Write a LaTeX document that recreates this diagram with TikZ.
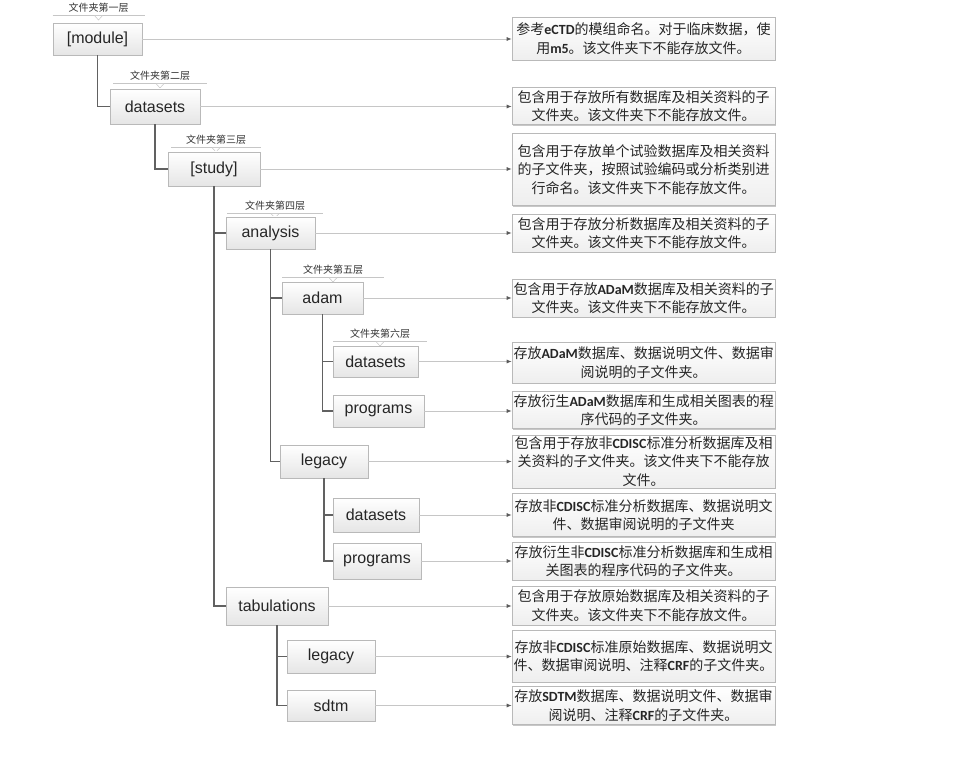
\documentclass[tikz,border=0pt]{standalone}
\usepackage{fontspec}
\newfontfamily\cjk{Noto Sans CJK SC}
\newfontfamily\arialf{Liberation Sans}
\newfontfamily\calfont{Carlito}
\usetikzlibrary{arrows.meta,shadows}
\newcommand\LB[1]{{\calfont\bfseries #1}}
\newcommand\layerlab[5]{% name, cx, yline, halfwidth, text
  \node[layer] (#1) at (#2,#3-7) {#5};
  \draw[gray!45, line width=.6pt] (#2-#4,#3) -- (#2+#4,#3);
  \draw[gray!45, fill=white, line width=.5pt] (#2-4,#3+.6) -- (#2+4,#3+.6) -- (#2,#3+5) -- cycle;
}
\begin{document}
\begin{tikzpicture}[x=1pt,y=-1pt,
  shad/.style={drop shadow={shadow xshift=1.3pt, shadow yshift=-1.3pt, fill=black, opacity=.22}},
  lbox/.style={shad, draw=gray!55, line width=.6pt, top color=white, bottom color=gray!20,
     font=\arialf\fontsize{16}{18}\selectfont, text=black!85, inner sep=0pt},
  rbox/.style={shad, draw=gray!55, line width=.6pt, top color=white, bottom color=gray!13,
     minimum width=263pt, text width=260pt, align=center, inner xsep=1.5pt, inner ysep=0pt,
     font=\cjk\fontsize{14}{18.5}\selectfont, text=black!85},
  tree/.style={draw=black!62, line width=1.3pt},
  conn/.style={draw=gray!45, line width=.8pt, -{Latex[length=5pt,width=4pt,color=black!65]}},
  layer/.style={font=\cjk\fontsize{10}{12}\selectfont, text=black!80, inner sep=1pt}
]
\useasboundingbox[fill=white] (0,0) rectangle (958,762);

% layer labels
\layerlab{L1}{98.5}{15}{46}{文件夹第一层}
\layerlab{L2}{160}{83}{47}{文件夹第二层}
\layerlab{L3}{216}{147}{45}{文件夹第三层}
\layerlab{L4}{275}{213}{48}{文件夹第四层}
\layerlab{L5}{333}{277}{51}{文件夹第五层}
\layerlab{L6}{380}{341}{47}{文件夹第六层}

% left folder boxes
\node[lbox, minimum width=89pt, minimum height=32pt] (module) at (97.5,39) {[module]};
\node[lbox, minimum width=90pt, minimum height=35pt] (ds2) at (155,106.5) {datasets};
\node[lbox, minimum width=92pt, minimum height=34pt] (study) at (214,169) {[study]};
\node[lbox, minimum width=89pt, minimum height=32pt] (analysis) at (270.5,233) {analysis};
\node[lbox, minimum width=81pt, minimum height=32pt] (adam) at (322.5,298) {adam};
\node[lbox, minimum width=85pt, minimum height=31pt] (ads) at (375.5,361.5) {datasets};
\node[lbox, minimum width=91pt, minimum height=32pt] (apg) at (378.5,411) {programs};
\node[lbox, minimum width=88pt, minimum height=33pt] (legacy) at (324,461.5) {legacy};
\node[lbox, minimum width=86pt, minimum height=34pt] (lds) at (376,515) {datasets};
\node[lbox, minimum width=88pt, minimum height=36pt] (lpg) at (377,561) {programs};
\node[lbox, minimum width=102pt, minimum height=38pt] (tab) at (277,606) {tabulations};
\node[lbox, minimum width=88pt, minimum height=33pt] (tleg) at (331,656.5) {legacy};
\node[lbox, minimum width=88pt, minimum height=31pt] (sdtm) at (331,705.5) {sdtm};

% right description boxes
\node[rbox, minimum height=43pt] (r1) at (643.5,38.5) {参考\LB{eCTD}的模组命名。对于临床数据，使\\用\LB{m5}。该文件夹下不能存放文件。};
\node[rbox, minimum height=37pt] (r2) at (643.5,106) {包含用于存放所有数据库及相关资料的子\\文件夹。该文件夹下不能存放文件。};
\node[rbox, minimum height=72pt] (r3) at (643.5,169.5) {包含用于存放单个试验数据库及相关资料\\的子文件夹，按照试验编码或分析类别进\\行命名。该文件夹下不能存放文件。};
\node[rbox, minimum height=38pt] (r4) at (643.5,233) {包含用于存放分析数据库及相关资料的子\\文件夹。该文件夹下不能存放文件。};
\node[rbox, minimum height=38pt] (r5) at (643.5,298) {包含用于存放\LB{ADaM}数据库及相关资料的子\\文件夹。该文件夹下不能存放文件。};
\node[rbox, minimum height=41pt] (r6) at (643.5,362.5) {存放\LB{ADaM}数据库、数据说明文件、数据审\\阅说明的子文件夹。};
\node[rbox, minimum height=37pt] (r7) at (643.5,410) {存放衍生\LB{ADaM}数据库和生成相关图表的程\\序代码的子文件夹。};
\node[rbox, minimum height=53pt] (r8) at (643.5,461.5) {包含用于存放非\LB{CDISC}标准分析数据库及相\\关资料的子文件夹。该文件夹下不能存放\\文件。};
\node[rbox, minimum height=43pt] (r9) at (643.5,515) {存放非\LB{CDISC}标准分析数据库、数据说明文\\件、数据审阅说明的子文件夹};
\node[rbox, minimum height=38pt] (r10) at (643.5,561) {存放衍生非\LB{CDISC}标准分析数据库和生成相\\关图表的程序代码的子文件夹。};
\node[rbox, minimum height=39pt] (r11) at (643.5,605.5) {包含用于存放原始数据库及相关资料的子\\文件夹。该文件夹下不能存放文件。};
\node[rbox, minimum height=52pt] (r12) at (643.5,656) {存放非\LB{CDISC}标准原始数据库、数据说明文\\件、数据审阅说明、注释\LB{CRF}的子文件夹。};
\node[rbox, minimum height=38pt] (r13) at (643.5,705.5) {存放\LB{SDTM}数据库、数据说明文件、数据审\\阅说明、注释\LB{CRF}的子文件夹。};

% tree lines
\draw[tree] (module.south) |- (ds2.west);
\draw[tree] (ds2.south) |- (study.west);
\draw[tree] (study.south) |- (analysis.west);
\draw[tree] (study.south) |- (tab.west);
\draw[tree] (analysis.south) |- (adam.west);
\draw[tree] (analysis.south) |- (legacy.west);
\draw[tree] (adam.south) |- (ads.west);
\draw[tree] (adam.south) |- (apg.west);
\draw[tree] (legacy.south) |- (lds.west);
\draw[tree] (legacy.south) |- (lpg.west);
\draw[tree] (tab.south) |- (tleg.west);
\draw[tree] (tab.south) |- (sdtm.west);

% connectors
\draw[conn] (module.east) -- (module.east -| r1.west);
\draw[conn] (ds2.east) -- (ds2.east -| r2.west);
\draw[conn] (study.east) -- (study.east -| r3.west);
\draw[conn] (analysis.east) -- (analysis.east -| r4.west);
\draw[conn] (adam.east) -- (adam.east -| r5.west);
\draw[conn] (ads.east) -- (ads.east -| r6.west);
\draw[conn] (apg.east) -- (apg.east -| r7.west);
\draw[conn] (legacy.east) -- (legacy.east -| r8.west);
\draw[conn] (lds.east) -- (lds.east -| r9.west);
\draw[conn] (lpg.east) -- (lpg.east -| r10.west);
\draw[conn] (tab.east) -- (tab.east -| r11.west);
\draw[conn] (tleg.east) -- (tleg.east -| r12.west);
\draw[conn] (sdtm.east) -- (sdtm.east -| r13.west);
\end{tikzpicture}
\end{document}
